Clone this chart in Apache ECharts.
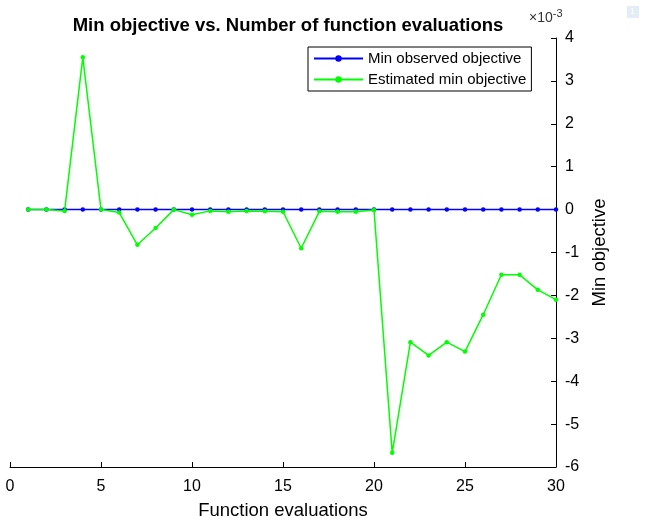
<!DOCTYPE html>
<html>
<head>
<meta charset="utf-8">
<script src="https://cdn.jsdelivr.net/npm/echarts@6/dist/echarts.min.js"></script>
<style>
  html, body { margin: 0; padding: 0; background: #fff; }
  #chart { width: 645px; height: 525px; }
</style>
</head>
<body>
<div id="chart"></div>
<script>
// Values in units of 1e-3 (as shown by the axis multiplier)
const evaluations = [1,2,3,4,5,6,7,8,9,10,11,12,13,14,15,16,17,18,19,20,21,22,23,24,25,26,27,28,29,30];
const minObserved = [0,0,0,0,0,0,0,0,0,0,0,0,0,0,0,0,0,0,0,0,0,0,0,0,0,0,0,0,0,0];
const estimatedMin = [0,0,-0.03,3.55,0,-0.07,-0.82,-0.43,0,-0.12,-0.03,-0.05,-0.03,-0.04,-0.05,-0.9,-0.04,-0.05,-0.05,-0.01,-5.67,-3.09,-3.4,-3.09,-3.31,-2.45,-1.52,-1.52,-1.87,-2.1];
const xTicks = { min: 0, max: 30, interval: 5 };
const yTicks = { min: -6, max: 4, interval: 1 };
const seriesNames = ['Min observed objective', 'Estimated min objective'];

const font = 'Liberation Sans, Arial, Helvetica, sans-serif';
const chart = echarts.init(document.getElementById('chart'), null, { renderer: 'canvas' });
chart.setOption({
  animation: false,
  backgroundColor: '#ffffff',
  textStyle: { fontFamily: font },
  title: {
    text: 'Min objective vs. Number of function evaluations',
    left: 283, top: 11, textAlign: 'center',
    textStyle: { fontFamily: font, fontSize: 18.5, fontWeight: 'bold', color: '#000' }
  },
  legend: {
    orient: 'vertical', left: 308, top: 47,
    backgroundColor: '#fff',
    borderColor: '#000', borderWidth: 1, borderRadius: 0,
    padding: [4, 5, 4, 5],
    itemWidth: 49, itemHeight: 8, itemGap: 6,
    textStyle: { fontFamily: font, fontSize: 15, color: '#000' },
    data: seriesNames
  },
  grid: { left: 10, right: 89, top: 38, bottom: 58, containLabel: false },
  xAxis: {
    type: 'value', min: xTicks.min, max: xTicks.max, interval: xTicks.interval,
    position: 'bottom',
    name: 'Function evaluations', nameLocation: 'middle', nameGap: 34,
    nameTextStyle: { fontFamily: font, fontSize: 18.5, color: '#000' },
    axisLine: { onZero: false, lineStyle: { color: '#000', width: 1 } },
    axisTick: { inside: true, length: 5, lineStyle: { color: '#000' } },
    axisLabel: { margin: 12, fontFamily: font, fontSize: 16, color: '#000' },
    splitLine: { show: false }
  },
  yAxis: {
    type: 'value', min: yTicks.min, max: yTicks.max, interval: yTicks.interval,
    position: 'right',
    name: 'Min objective', nameLocation: 'middle', nameGap: 30, nameRotate: 90,
    nameTextStyle: { fontFamily: font, fontSize: 18.5, color: '#000' },
    axisLine: { onZero: false, lineStyle: { color: '#000', width: 1 } },
    axisTick: { inside: true, length: 5, lineStyle: { color: '#000' } },
    axisLabel: { margin: 9, fontFamily: font, fontSize: 16, color: '#000' },
    splitLine: { show: false }
  },
  graphic: [
    {
      type: 'text', left: 529, top: 8,
      style: {
        text: '{a|×10}{b|-3}',
        rich: {
          a: { fontFamily: font, fontSize: 14, fill: '#333', verticalAlign: 'bottom' },
          b: { fontFamily: font, fontSize: 11, fill: '#333', verticalAlign: 'top', padding: [0, 0, 6, 0] }
        }
      }
    },
    {
      type: 'rect', left: 627, top: 6, shape: { width: 12, height: 12 },
      style: { fill: '#e3edf8' }
    },
    {
      type: 'text', left: 630, top: 7,
      style: { text: '1', fontFamily: font, fontSize: 9, fill: '#ffffff' }
    }
  ],
  series: [
    {
      name: seriesNames[0], type: 'line', z: 2,
      data: evaluations.map((x, i) => [x, minObserved[i]]),
      symbol: 'circle', symbolSize: 4.5, showSymbol: true,
      lineStyle: { color: '#0000ff', width: 1.5 },
      itemStyle: { color: '#0000ff' }
    },
    {
      name: seriesNames[1], type: 'line', z: 3,
      data: evaluations.map((x, i) => [x, estimatedMin[i]]),
      symbol: 'circle', symbolSize: 4.5, showSymbol: true,
      lineStyle: { color: '#00ff00', width: 1.5 },
      itemStyle: { color: '#00ff00' }
    }
  ]
});
</script>
</body>
</html>
